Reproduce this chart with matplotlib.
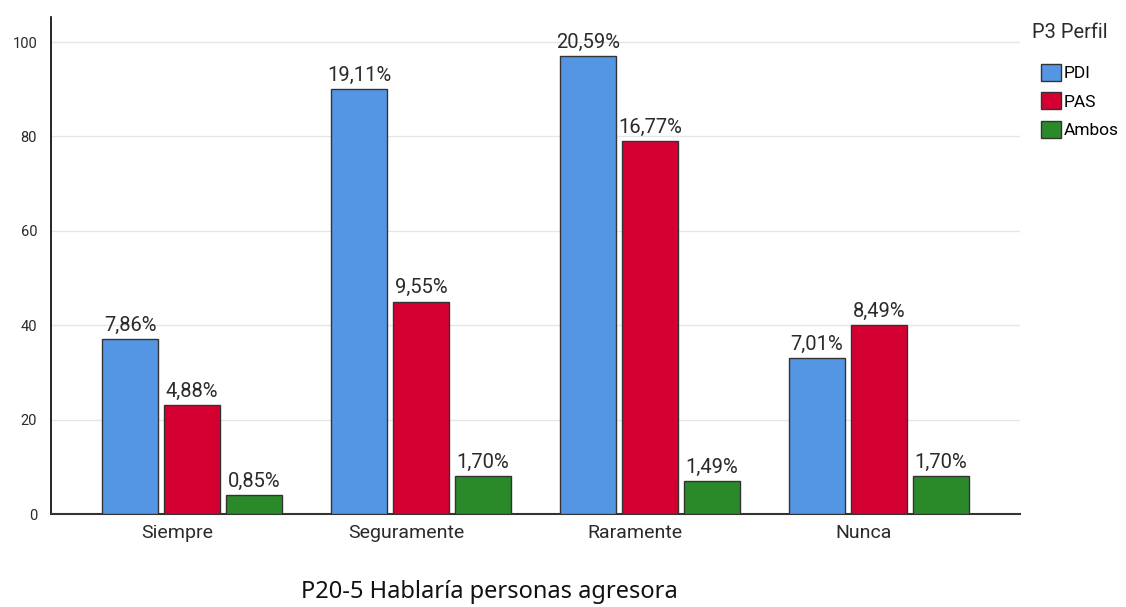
import matplotlib.pyplot as plt
import numpy as np

plt.rcParams['font.family'] = ['Roboto', 'DejaVu Sans']

categorias = ['Siempre', 'Seguramente', 'Raramente', 'Nunca']
perfiles = ['PDI', 'PAS', 'Ambos']
valores_pdi = [37, 90, 97, 33]
valores_pas = [23, 45, 79, 40]
valores_ambos = [4, 8, 7, 8]
etiquetas_pdi = ['7,86%', '19,11%', '20,59%', '7,01%']
etiquetas_pas = ['4,88%', '9,55%', '16,77%', '8,49%']
etiquetas_ambos = ['0,85%', '1,70%', '1,49%', '1,70%']
colores = ['#5596E4', '#D50032', '#2A8A2A']

series = [valores_pdi, valores_pas, valores_ambos]
etiquetas = [etiquetas_pdi, etiquetas_pas, etiquetas_ambos]

texto = '#2a2a2a'

W, H = 1126, 607
fig = plt.figure(figsize=(W / 100, H / 100), dpi=100)
ax = fig.add_axes([0.0453, 0.1532, 0.8606, 0.8188])

x = np.arange(len(categorias))
ancho = 0.245
paso = 0.271

for i, (vals, labs) in enumerate(zip(series, etiquetas)):
    pos = x + (i - 1) * paso
    barras = ax.bar(pos, vals, ancho, color=colores[i], edgecolor='#333333',
                    linewidth=1, label=perfiles[i], zorder=3)
    for b, t in zip(barras, labs):
        ax.text(b.get_x() + b.get_width() / 2, b.get_height() + 0.9, t,
                ha='center', va='bottom', fontsize=14.5, color=texto, zorder=4)

ax.set_xlim(-0.617, len(categorias) - 1 + 0.617)
ax.set_ylim(0, 105.3)
ax.set_yticks([0, 20, 40, 60, 80, 100])
ax.set_xticks(x - 0.065)
ax.set_xticklabels(categorias, fontsize=14, color=texto)
ax.tick_params(axis='y', length=0, labelsize=10.5, colors=texto, pad=10)
ax.tick_params(axis='x', length=0, pad=7)
ax.grid(axis='y', color='#e6e6e6', linewidth=1, zorder=0)

for s in ['top', 'right']:
    ax.spines[s].set_visible(False)
ax.spines['left'].set_color('black')
ax.spines['left'].set_linewidth(1.2)
ax.spines['bottom'].set_color('#333333')
ax.spines['bottom'].set_linewidth(1.5)

# leyenda: titulo aparte para alinearlo como en el original
fig.text(1032 / W, 1 - 33 / H, 'P3 Perfil', ha='left', va='center',
         fontsize=14.5, color=texto)
ax.legend(loc='upper left', bbox_to_anchor=(1041 / W, 1 - 64 / H),
          bbox_transform=fig.transFigure, frameon=False,
          prop={'size': 12.5},
          borderpad=0, borderaxespad=0,
          handlelength=1.15, handleheight=1.15, handletextpad=0.15,
          labelspacing=0.62)

fig.text(489 / W, 1 - 592 / H, 'P20-5 Hablaría personas agresora', ha='center',
         va='center', fontsize=17, color='#111111',
         family=['Noto Sans', 'DejaVu Sans'])

fig.savefig('out.png', dpi=100)
